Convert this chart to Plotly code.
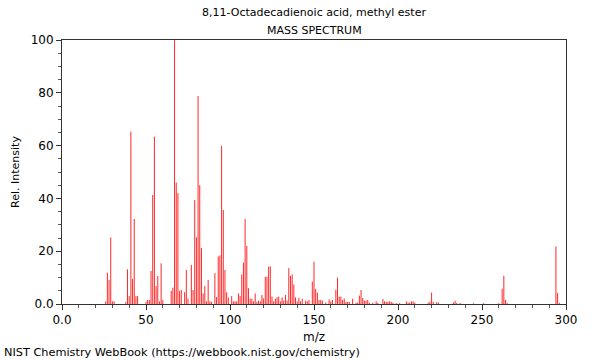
import plotly.graph_objects as go

mz = [26, 27, 28, 29, 30, 31, 38, 39, 40, 41, 42, 43, 44, 45, 50, 51, 52, 53, 54, 55,
      56, 57, 58, 59, 60, 65, 66, 67, 68, 69, 70, 71, 73, 74, 75, 77, 78, 79, 80, 81,
      82, 83, 84, 85, 86, 87, 88, 89, 91, 92, 93, 94, 95, 96, 97, 98, 99, 101, 102, 103,
      104, 105, 106, 107, 108, 109, 110, 111, 112, 113, 114, 115, 116, 117, 118, 119, 120, 121, 122, 123,
      124, 125, 126, 127, 128, 129, 130, 131, 132, 133, 134, 135, 136, 137, 138, 139, 140, 141, 142, 143,
      145, 146, 147, 149, 150, 151, 152, 153, 154, 155, 157, 159, 160, 161, 163, 164, 165, 166, 167, 168,
      169, 170, 171, 173, 175, 176, 177, 178, 179, 180, 181, 182, 183, 185, 187, 188, 191, 192, 193, 194,
      195, 196, 197, 199, 201, 205, 206, 207, 208, 209, 210, 218, 219, 220, 221, 223, 224, 233, 234, 235,
      237, 245, 251, 260, 262, 263, 264, 265, 294, 295, 296]
intensity = [1.0, 11.9, 9.1, 25.2, 1.0, 1.0, 0.7, 13.1, 3.0, 65.3, 9.5, 32.2, 3.0, 3.0, 0.8, 1.5, 1.5, 12.5, 41.3, 63.4,
             6.8, 10.6, 1.0, 15.4, 1.5, 5.0, 6.2, 100.0, 46.0, 42.0, 5.0, 5.3, 4.5, 12.9, 2.0, 14.8, 5.3, 39.4, 25.3, 78.8,
             45.0, 21.2, 4.0, 6.8, 1.0, 9.1, 1.0, 0.8, 11.7, 2.6, 18.0, 18.4, 59.8, 35.6, 12.9, 4.4, 2.5, 3.0, 1.0, 1.0,
             1.0, 4.0, 3.0, 11.2, 15.7, 32.2, 22.0, 6.0, 2.0, 2.0, 1.0, 4.0, 0.8, 1.3, 1.0, 3.4, 2.1, 10.3, 10.3, 14.2,
             14.2, 2.8, 1.0, 2.0, 2.5, 2.8, 1.0, 2.5, 1.3, 3.4, 1.3, 13.6, 10.6, 11.2, 7.4, 2.5, 1.0, 2.3, 1.0, 2.0,
             1.3, 1.0, 1.5, 8.5, 16.0, 5.7, 4.3, 1.5, 1.5, 1.3, 0.6, 1.8, 1.0, 1.5, 5.4, 10.0, 2.8, 2.8, 1.5, 2.1,
             0.8, 0.8, 0.8, 2.0, 0.5, 0.5, 3.2, 5.3, 2.3, 1.3, 1.3, 1.5, 0.5, 0.5, 1.0, 0.5, 1.9, 1.0, 0.8, 0.8,
             1.0, 0.8, 0.5, 0.4, 0.4, 1.0, 0.5, 0.5, 1.0, 1.0, 0.5, 0.5, 0.8, 4.3, 0.8, 0.6, 0.6, 0.6, 1.2, 0.4,
             0.4, 0.3, 0.3, 0.3, 5.8, 10.7, 1.5, 0.4, 21.8, 4.2, 0.5]

x_ticks = [0, 50, 100, 150, 200, 250, 300]
x_tick_labels = ["0.0", "50", "100", "150", "200", "250", "300"]
y_ticks = [0, 20, 40, 60, 80, 100]
y_tick_labels = ["0.0", "20", "40", "60", "80", "100"]

L, R, T, B = 62, 34, 40, 56
W, H = 600, 360
plot_w = W - L - R
plot_h = H - T - B


def py(pix_y):
    return (H - B - pix_y) / plot_h


def px(pix_x):
    return (pix_x - L) / plot_w


# stick spectrum: each peak is a vertical segment from 0 to its intensity
stem_x, stem_y = [], []
for m, v in zip(mz, intensity):
    stem_x += [m, m, None]
    stem_y += [0, v, None]

fig = go.Figure(go.Scatter(x=stem_x, y=stem_y, mode="lines",
                           line=dict(color="rgb(255,40,40)", width=1),
                           hoverinfo="x+y"))

font = "DejaVu Sans, sans-serif"
fig.update_layout(
    width=W, height=H,
    margin=dict(l=L, r=R, t=T, b=B),
    paper_bgcolor="white", plot_bgcolor="white",
    font=dict(family=font, size=11, color="black"),
    showlegend=False,
    annotations=[
        dict(text="8,11-Octadecadienoic acid, methyl ester", x=0.5, xref="paper", y=py(13), yref="paper",
             showarrow=False, font=dict(size=11), yanchor="middle"),
        dict(text="MASS SPECTRUM", x=0.5, xref="paper", y=py(30), yref="paper",
             showarrow=False, font=dict(size=11), yanchor="middle"),
        dict(text="NIST Chemistry WebBook (https://webbook.nist.gov/chemistry)", x=px(2), xref="paper",
             y=py(352), yref="paper", showarrow=False, font=dict(size=11.3),
             xanchor="left", yanchor="middle"),
    ],
)

fig.update_xaxes(range=[0, 300], tickvals=x_ticks, ticktext=x_tick_labels,
                 ticks="outside", ticklen=5, tickwidth=1, tickcolor="#333",
                 showline=True, linecolor="#333", linewidth=1, mirror=True,
                 showgrid=False, zeroline=False, tickfont=dict(size=12),
                 minor=dict(dtick=10, tick0=0, ticks="outside", ticklen=3, tickcolor="#555"),
                 title=dict(text="m/z", font=dict(size=12), standoff=6))
fig.update_yaxes(range=[0, 100], tickvals=y_ticks, ticktext=y_tick_labels,
                 ticks="outside", ticklen=5, tickwidth=1, tickcolor="#333",
                 showline=True, linecolor="#333", linewidth=1, mirror=True,
                 showgrid=False, zeroline=False, tickfont=dict(size=12),
                 minor=dict(dtick=5, tick0=0, ticks="outside", ticklen=3, tickcolor="#555"),
                 title=dict(text="Rel. Intensity", font=dict(size=11), standoff=8))

fig.write_html("out.html", config={"displayModeBar": False},
               post_script="document.body.style.margin='0';document.body.style.overflow='hidden';")
